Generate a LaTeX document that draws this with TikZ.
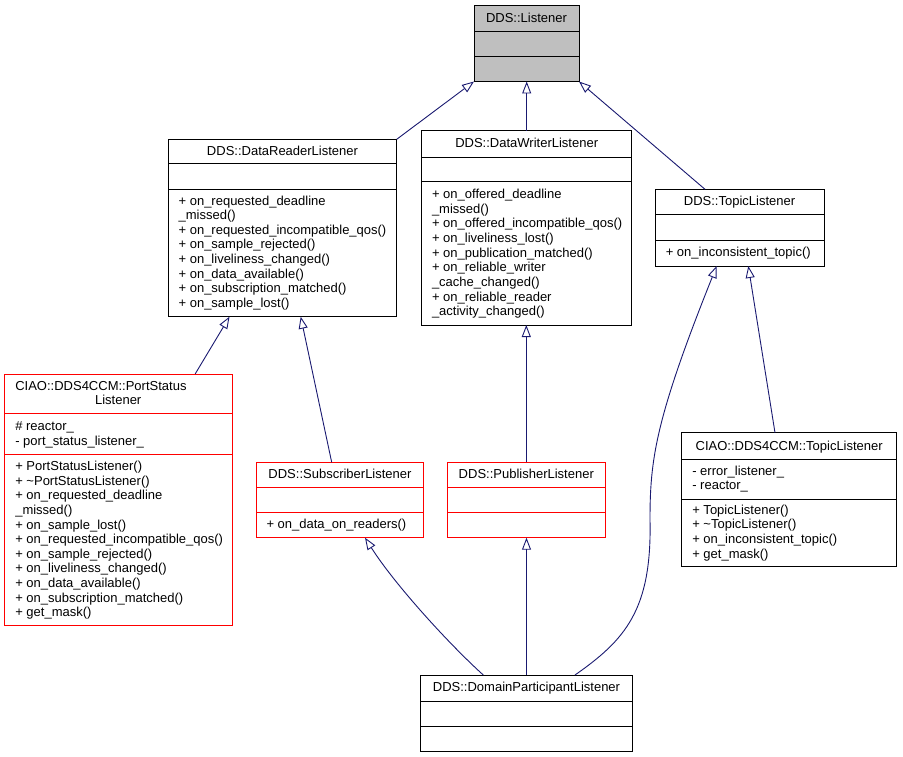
\documentclass[tikz,border=0pt]{standalone}
\usepackage{fontspec}
\setmainfont{Liberation Sans}
\usetikzlibrary{arrows.meta}
\definecolor{edgeblue}{RGB}{25,25,112}
\definecolor{boxgray}{RGB}{191,191,191}
\definecolor{boxred}{RGB}{255,0,0}
\tikzset{
  umlbox/.style={inner sep=0pt, outer sep=0pt, line width=1pt},
  txt/.style={inner sep=0pt, outer sep=0pt, font=\fontsize{13}{14.6}\selectfont},
  inh/.style={draw=edgeblue, line width=0.9pt, -{Triangle[open, length=12pt, width=9pt]}}
}
% name, x1, y1, x2, y2, sep1, sep2, draw colour, fill colour
\newcommand\umlclass[9]{%
  \node[umlbox, draw=#8, fill=#9, minimum width={(#4-#2)*1pt}, minimum height={(#5-#3)*1pt}, anchor=north west] (#1) at (#2,#3) {};
  \draw[line width=1pt, draw=#8] (#2,#6) -- (#4,#6);
  \draw[line width=1pt, draw=#8] (#2,#7) -- (#4,#7);
}
% name prefix, x, first baseline, list of lines
\newcommand\memberlines[4]{%
  \foreach \t [count=\i] in {#4} {
    \node[txt, anchor=base west] (#1\i) at (#2,{#3+14.6*(\i-1)}) {\t};
  }
}
\begin{document}
\begin{tikzpicture}[x=1pt, y=-1pt]
\useasboundingbox (0,0) rectangle (903,757);

% DDS::Listener
\umlclass{li}{474}{5.5}{579}{81.5}{31.7}{56.7}{black}{boxgray}
\node[txt, anchor=base] (lit) at (526.5,22.5) {DDS::Listener};

% DDS::DataReaderListener
\umlclass{dr}{168.3}{139.3}{396.7}{316.7}{163.3}{189.3}{black}{white}
\node[txt, anchor=base] (drt) at (282.5,155.4) {DDS::DataReaderListener};
\memberlines{drm}{178.6}{205}{{+ on\_requested\_deadline},{\_missed()},{+ on\_requested\_incompatible\_qos()},{+ on\_sample\_rejected()},{+ on\_liveliness\_changed()},{+ on\_data\_available()},{+ on\_subscription\_matched()},{+ on\_sample\_lost()}}

% DDS::DataWriterListener
\umlclass{dw}{421.7}{131}{631.7}{325}{157.3}{181.7}{black}{white}
\node[txt, anchor=base] (dwt) at (526.7,148) {DDS::DataWriterListener};
\memberlines{dwm}{432}{198.8}{{+ on\_offered\_deadline},{\_missed()},{+ on\_offered\_incompatible\_qos()},{+ on\_liveliness\_lost()},{+ on\_publication\_matched()},{+ on\_reliable\_writer},{\_cache\_changed()},{+ on\_reliable\_reader},{\_activity\_changed()}}

% DDS::TopicListener
\umlclass{tl}{655}{189.3}{824}{266}{214.3}{240.7}{black}{white}
\node[txt, anchor=base] (tlt) at (739.5,206) {DDS::TopicListener};
\memberlines{tlm}{665.8}{256.8}{{+ on\_inconsistent\_topic()}}

% CIAO::DDS4CCM::PortStatusListener
\umlclass{ps}{4}{374}{232.3}{625.7}{413.3}{454}{boxred}{white}
\node[txt, anchor=base west] (pst1) at (15.3,390) {CIAO::DDS4CCM::PortStatus};
\node[txt, anchor=base] (pst2) at (118.2,404.8) {Listener};
\memberlines{psa}{15.3}{430.4}{{\# reactor\_},{- port\_status\_listener\_}}
\memberlines{psm}{15.3}{470.6}{{+ PortStatusListener()},{+ \textasciitilde PortStatusListener()},{+ on\_requested\_deadline},{\_missed()},{+ on\_sample\_lost()},{+ on\_requested\_incompatible\_qos()},{+ on\_sample\_rejected()},{+ on\_liveliness\_changed()},{+ on\_data\_available()},{+ on\_subscription\_matched()},{+ get\_mask()}}

% DDS::SubscriberListener
\umlclass{sl}{256.7}{462.3}{423.3}{537.7}{487.3}{512.3}{boxred}{white}
\node[txt, anchor=base] (slt) at (340,478.4) {DDS::SubscriberListener};
\memberlines{slm}{266.5}{528.9}{{+ on\_data\_on\_readers()}}

% DDS::PublisherListener
\umlclass{pl}{447.3}{462.3}{605.3}{537.7}{487.3}{512.3}{boxred}{white}
\node[txt, anchor=base] (plt) at (526.3,478.4) {DDS::PublisherListener};

% CIAO::DDS4CCM::TopicListener
\umlclass{ct}{681.7}{432.7}{896.7}{566.7}{459.3}{499}{black}{white}
\node[txt, anchor=base] (ctt) at (789.2,450) {CIAO::DDS4CCM::TopicListener};
\memberlines{cta}{692.3}{475}{{- error\_listener\_},{- reactor\_}}
\memberlines{ctm}{692.3}{514.3}{{+ TopicListener()},{+ \textasciitilde TopicListener()},{+ on\_inconsistent\_topic()},{+ get\_mask()}}

% DDS::DomainParticipantListener
\umlclass{dp}{420.7}{675}{632.3}{751}{701}{726}{black}{white}
\node[txt, anchor=base] (dpt) at (526.5,691.7) {DDS::DomainParticipantListener};

% inheritance connectors
\draw[inh] (dr.north east) -- (li.south west);
\draw[inh] (dw.north) -- (dw.north |- li.south);
\draw[inh] ([xshift=-34.5pt]tl.north) -- (li.south east);
\draw[inh] ([xshift=77pt]ps.north) -- ([xshift=-53pt]dr.south);
\draw[inh] ([xshift=-8.3pt]sl.north) -- ([xshift=18.2pt]dr.south);
\draw[inh] (pl.north) -- (pl.north |- dw.south);
\draw[inh] ([xshift=-14.2pt]ct.north) -- ([xshift=8.8pt]tl.south);
\draw[inh] ([xshift=-43.2pt]dp.north) .. controls (450,645) and (395,585) .. ([xshift=25pt]sl.south);
\draw[inh] (dp.north) -- (dp.north |- pl.south);
\draw[inh] ([xshift=48.5pt]dp.north) .. controls (625,640) and (652,610) .. (650,520) .. controls (650,460) and (655,420) .. ([xshift=-22.8pt]tl.south);
\end{tikzpicture}
\end{document}
